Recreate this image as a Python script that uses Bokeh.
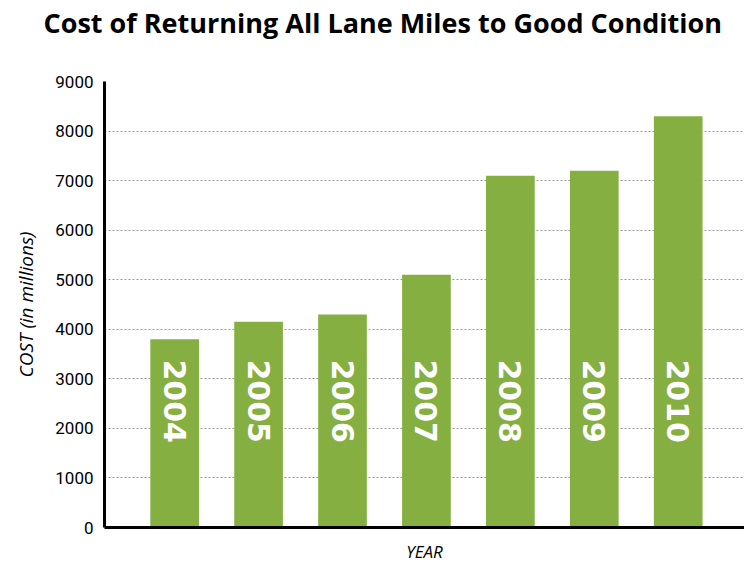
import math
from bokeh.plotting import figure
from bokeh.models import FixedTicker, Range1d, ColumnDataSource, Title
from bokeh.core.properties import value
from bokeh.embed import file_html
from bokeh.resources import INLINE

years = ["2004", "2005", "2006", "2007", "2008", "2009", "2010"]
costs = [3800, 4150, 4300, 5100, 7100, 7200, 8300]
y_ticks = [0, 1000, 2000, 3000, 4000, 5000, 6000, 7000, 8000, 9000]
label_level = 2550

xs = list(range(len(years)))
src = ColumnDataSource(dict(x=xs, top=costs, year=years, ly=[label_level] * len(years)))

p = figure(width=744, height=566, output_backend="svg", toolbar_location=None,
           x_range=Range1d(-0.836, 6.79), y_range=Range1d(0, 9000),
           min_border_left=104, min_border_right=0, min_border_top=81, min_border_bottom=39)
p.title.text = "Cost of Returning All Lane Miles to Good Condition"
p.title.align = "left"
p.title.offset = -61
p.title.standoff = 0
p.title.text_font = "Open Sans"
p.title.text_font_size = "27px"
p.title.text_font_style = "bold"
p.title.text_color = "black"
# thin spacer between the title and the plot frame
p.add_layout(Title(text=" ", text_font_size="2px", standoff=37), "above")
p.outline_line_color = None

p.vbar(x="x", top="top", width=0.58, source=src, fill_color="#85b041", line_color=None)
p.text(x="x", y="ly", text="year", source=src, angle=-math.pi / 2,
       text_align="center", text_baseline="middle", text_color="white",
       text_font=value("DejaVu Sans"), text_font_style="bold", text_font_size="30px")

p.xgrid.grid_line_color = None
p.ygrid.grid_line_color = "#9a9a9a"
p.ygrid.grid_line_dash = "2 2"
p.ygrid.grid_line_width = 1

p.yaxis.ticker = FixedTicker(ticks=y_ticks)
p.yaxis.major_tick_line_color = None
p.yaxis.minor_tick_line_color = None
p.yaxis.major_tick_out = 0
p.yaxis.major_tick_in = 0
p.yaxis.axis_line_width = 3
p.yaxis.axis_line_color = "black"
p.yaxis.major_label_text_font = "Roboto"
p.yaxis.major_label_text_font_size = "17px"
p.yaxis.major_label_text_color = "black"
p.yaxis.major_label_standoff = 11
p.yaxis.axis_label = "COST (in millions)"
p.yaxis.axis_label_text_font = "Open Sans"
p.yaxis.axis_label_text_font_style = "italic"
p.yaxis.axis_label_text_font_size = "19px"
p.yaxis.axis_label_text_color = "black"
p.yaxis.axis_label_standoff = 13

p.xaxis.ticker = FixedTicker(ticks=[])
p.xaxis.major_tick_line_color = None
p.xaxis.minor_tick_line_color = None
p.xaxis.major_tick_out = 0
p.xaxis.major_tick_in = 0
p.xaxis.major_label_standoff = 0
p.xaxis.axis_line_width = 3
p.xaxis.axis_line_color = "black"
p.xaxis.axis_label = "YEAR"
p.xaxis.axis_label_text_font = "Open Sans"
p.xaxis.axis_label_text_font_style = "italic"
p.xaxis.axis_label_text_font_size = "17px"
p.xaxis.axis_label_text_color = "black"
p.xaxis.axis_label_standoff = 12

open("out.html", "w").write(file_html(p, INLINE))
